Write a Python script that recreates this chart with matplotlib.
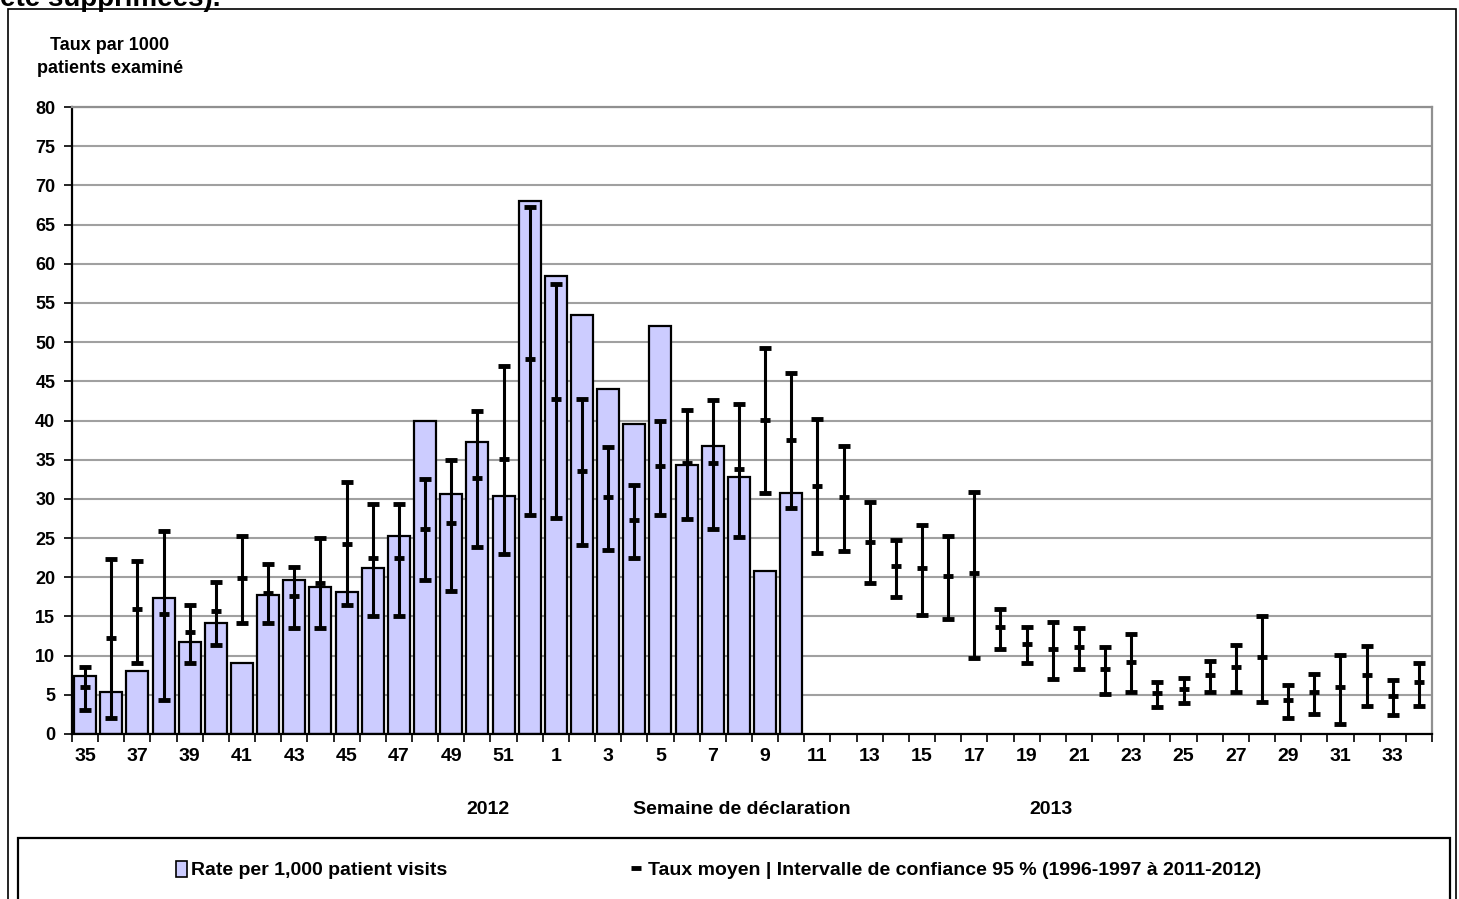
import matplotlib
matplotlib.use("Agg")
import matplotlib.pyplot as plt
from matplotlib.patches import Rectangle, Patch
from matplotlib.lines import Line2D
import numpy as np

plt.rcParams['font.family'] = ['Liberation Sans Narrow', 'Liberation Sans', 'DejaVu Sans']
plt.rcParams['font.weight'] = 'bold'

# semaines 35-52 (2012) puis 1-34 (2013)
weeks = list(range(35, 53)) + list(range(1, 35))

# taux observé 2012-2013 (semaines 35 à 10)
rate = [7.4, 5.4, 8.0, 17.4, 11.8, 14.1, 9.1, 17.7, 19.6, 18.7, 18.1, 21.2,
        25.3, 40.0, 30.6, 37.2, 30.4, 68.0, 58.4, 53.4, 44.0, 39.6, 52.1,
        34.3, 36.8, 32.8, 20.8, 30.8]

# taux moyen historique et intervalle de confiance 95 %
mean = [6.0, 12.3, 15.9, 15.3, 13.0, 15.7, 19.9, 18.0, 17.6, 19.3, 24.3, 22.4,
        22.5, 26.2, 26.9, 32.7, 35.1, 47.8, 42.8, 33.6, 30.3, 27.3, 34.2,
        34.6, 34.6, 33.8, 40.1, 37.5,
        31.7, 30.2, 24.5, 21.4, 21.2, 20.1, 20.5, 13.6, 11.5, 10.9, 11.1,
        8.3, 9.2, 5.2, 5.8, 7.5, 8.6, 9.8, 4.4, 5.4, 6.0, 7.5, 4.8, 6.6]
ci_hi = [8.5, 22.3, 22.1, 25.9, 16.5, 19.4, 25.3, 21.7, 21.3, 25.0, 32.1, 29.3,
         29.3, 32.5, 35.0, 41.2, 46.9, 67.3, 57.4, 42.7, 36.6, 31.8, 40.0,
         41.4, 42.6, 42.1, 49.2, 46.0,
         40.2, 36.7, 29.6, 24.8, 26.7, 25.3, 30.9, 16.0, 13.7, 14.3, 13.5,
         11.1, 12.8, 6.6, 7.2, 9.3, 11.4, 15.1, 6.2, 7.7, 10.1, 11.2, 6.9, 9.1]
ci_lo = [3.0, 2.0, 9.1, 4.3, 9.1, 11.4, 14.1, 14.1, 13.5, 13.5, 16.4, 15.1,
         15.1, 19.7, 18.3, 23.9, 23.0, 27.9, 27.6, 24.1, 23.5, 22.4, 27.9,
         27.4, 26.1, 25.1, 30.7, 28.8,
         23.1, 23.4, 19.3, 17.5, 15.2, 14.7, 9.7, 10.8, 9.1, 7.0, 8.3,
         5.1, 5.3, 3.4, 3.9, 5.3, 5.3, 4.1, 2.0, 2.6, 1.3, 3.6, 2.4, 3.6]

W, H = 1459, 899
fig = plt.figure(figsize=(W / 100, H / 100), dpi=100)
ax = fig.add_axes([72 / W, 1 - 734 / H, (1432 - 72) / W, (734 - 107) / H])

x = np.arange(len(weeks))
ax.bar(x[:len(rate)], rate, width=0.84, color='#CCCCFF', edgecolor='black',
       linewidth=1.6, zorder=2)

mean = np.array(mean)
yerr = [mean - np.array(ci_lo), np.array(ci_hi) - mean]
ax.errorbar(x, mean, yerr=yerr, fmt='_', color='black', ecolor='black',
            elinewidth=2.2, capsize=4, capthick=2.2, markersize=7.5, mew=3.5,
            zorder=3)

ax.set_xlim(-0.5, len(weeks) - 0.5)
ax.set_ylim(0, 80)
ax.set_yticks(range(0, 81, 5))
ax.yaxis.grid(True, color='#a0a0a0', linewidth=1.5, zorder=0)
ax.set_axisbelow(True)

ax.set_xticks(x[::2])
ax.set_xticklabels([str(w) for w in weeks[::2]])
ax.set_xticks(np.arange(-0.5, len(weeks), 1), minor=True)
ax.tick_params(axis='x', which='major', length=0, pad=10, labelsize=14)
ax.tick_params(axis='x', which='minor', length=6, width=1.2, direction='out')
ax.tick_params(axis='y', length=6, width=1.2, direction='out', pad=6,
               labelsize=13)

for s in ('left', 'bottom'):
    ax.spines[s].set_color('black')
    ax.spines[s].set_linewidth(1.6)
for s in ('right', 'top'):
    ax.spines[s].set_color('#909090')
    ax.spines[s].set_linewidth(1.6)

# textes
fig.text(110 / W, 1 - 57 / H, "Taux par 1000\npatients examiné", ha='center',
         va='center', fontsize=13, linespacing=1.45)
fig.text(488 / W, 1 - 810 / H, "2012", ha='center', va='center', fontsize=14)
fig.text(742 / W, 1 - 810 / H, "Semaine de déclaration", ha='center',
         va='center', fontsize=14)
fig.text(1051 / W, 1 - 810 / H, "2013", ha='center', va='center', fontsize=14)
fig.text(0, 1 - 6 / H, "été supprimées).", ha='left', va='baseline',
         fontsize=20)

# cadres
fig.patches.append(Rectangle((8 / W, -0.02), (1456 - 8) / W, 1.02 - 9 / H,
                             transform=fig.transFigure, fill=False,
                             edgecolor='black', linewidth=1.2))
fig.patches.append(Rectangle((18 / W, -0.02), (1450 - 18) / W,
                             0.02 + (899 - 838) / H,
                             transform=fig.transFigure, fill=False,
                             edgecolor='black', linewidth=1.6))

# légende
h1 = Patch(facecolor='#CCCCFF', edgecolor='black', linewidth=1.2)
h2 = Line2D([], [], color='black', marker='_', linestyle='none',
            markersize=7.5, mew=3.5)
fig.legend([h1], ["Rate per 1,000 patient visits"], loc='center left',
           bbox_to_anchor=(158 / W, 1 - 870 / H), frameon=False, fontsize=14,
           handlelength=0.6, handleheight=0.9, handletextpad=0.2)
fig.legend([h2], ["Taux moyen | Intervalle de confiance 95 % (1996-1997 à 2011-2012)"],
           loc='center left', bbox_to_anchor=(613 / W, 1 - 870 / H),
           frameon=False, fontsize=14, handlelength=0.6, handletextpad=0.3)

fig.savefig("out.png", dpi=100)
